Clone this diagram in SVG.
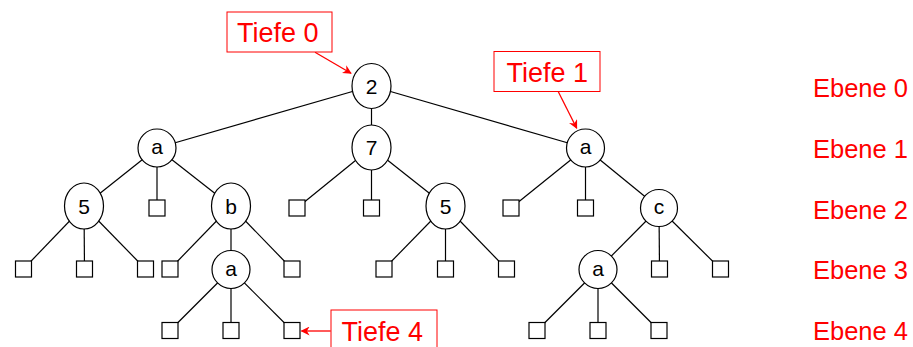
<svg xmlns="http://www.w3.org/2000/svg" width="913" height="347" viewBox="0 0 913 347">
<style>
.e{stroke:#000;stroke-width:1.2;fill:none}
.n{fill:#fff;stroke:#000;stroke-width:1.2}
.t{font-family:"Liberation Sans",Arial,sans-serif;font-size:21px;fill:#000;text-anchor:middle}
.r{font-family:"Liberation Sans",Arial,sans-serif;font-size:25.5px;fill:#ff0000}
.r2{font-family:"Liberation Sans",Arial,sans-serif;font-size:27px;fill:#ff0000}
.b{fill:#fff;stroke:#ff0000;stroke-width:1}
.a{stroke:#ff0000;stroke-width:1.3;fill:none}
</style>
<defs>
<marker id="arr" viewBox="0 0 10 10" refX="9" refY="5" markerWidth="9" markerHeight="9" markerUnits="userSpaceOnUse" orient="auto">
<path d="M0,0 L10,5 L0,10 L3,5 z" fill="#ff0000"/>
</marker>
</defs>
<g id="connectors">
<line class="e" x1="371.5" y1="86" x2="157" y2="148"/>
<line class="e" x1="371.5" y1="86" x2="371.5" y2="147.5"/>
<line class="e" x1="371.5" y1="86" x2="585.5" y2="148"/>
<line class="e" x1="157" y1="148" x2="84" y2="206"/>
<line class="e" x1="157" y1="148" x2="157" y2="208"/>
<line class="e" x1="157" y1="148" x2="231" y2="206"/>
<line class="e" x1="371.5" y1="147.5" x2="297" y2="208"/>
<line class="e" x1="371.5" y1="147.5" x2="371.5" y2="208"/>
<line class="e" x1="371.5" y1="147.5" x2="445.5" y2="206"/>
<line class="e" x1="585.5" y1="148" x2="511" y2="208"/>
<line class="e" x1="585.5" y1="148" x2="585.5" y2="208"/>
<line class="e" x1="585.5" y1="148" x2="659" y2="208"/>
<line class="e" x1="84" y1="206" x2="23.5" y2="269"/>
<line class="e" x1="84" y1="206" x2="84.5" y2="269"/>
<line class="e" x1="84" y1="206" x2="145.5" y2="269"/>
<line class="e" x1="231" y1="206" x2="170" y2="269"/>
<line class="e" x1="231" y1="206" x2="231" y2="269.5"/>
<line class="e" x1="231" y1="206" x2="292" y2="269"/>
<line class="e" x1="445.5" y1="206" x2="384" y2="269"/>
<line class="e" x1="445.5" y1="206" x2="445.5" y2="269"/>
<line class="e" x1="445.5" y1="206" x2="506.5" y2="269"/>
<line class="e" x1="659" y1="208" x2="598" y2="269.5"/>
<line class="e" x1="659" y1="208" x2="659.5" y2="269"/>
<line class="e" x1="659" y1="208" x2="720.5" y2="269"/>
<line class="e" x1="231" y1="269.5" x2="170" y2="330.5"/>
<line class="e" x1="231" y1="269.5" x2="231" y2="330.5"/>
<line class="e" x1="231" y1="269.5" x2="292" y2="330.5"/>
<line class="e" x1="598" y1="269.5" x2="537" y2="330.5"/>
<line class="e" x1="598" y1="269.5" x2="598" y2="330.5"/>
<line class="e" x1="598" y1="269.5" x2="659" y2="330.5"/>
</g>
<g id="root"><ellipse class="n" cx="371.5" cy="86" rx="19.5" ry="22.5"/><text class="t" x="371.5" y="93.5">2</text></g>
<g id="n1a"><circle class="n" cx="157" cy="148" r="19"/><text class="t" x="157" y="154">a</text></g>
<g id="n17"><ellipse class="n" cx="371.5" cy="147.5" rx="19.5" ry="22.5"/><text class="t" x="371.5" y="155">7</text></g>
<g id="n1a2"><circle class="n" cx="585.5" cy="148" r="19"/><text class="t" x="585.5" y="154">a</text></g>
<g id="n25"><ellipse class="n" cx="84" cy="206" rx="19.5" ry="23"/><text class="t" x="84" y="214">5</text></g>
<g id="l2a"><rect class="n" x="149" y="200" width="16" height="16"/></g>
<g id="n2b"><ellipse class="n" cx="231" cy="206" rx="19.5" ry="23"/><text class="t" x="231" y="214">b</text></g>
<g id="l2b"><rect class="n" x="289" y="200" width="16" height="16"/></g>
<g id="l2c"><rect class="n" x="363.5" y="200" width="16" height="16"/></g>
<g id="n25b"><ellipse class="n" cx="445.5" cy="206" rx="19.5" ry="23"/><text class="t" x="445.5" y="214">5</text></g>
<g id="l2d"><rect class="n" x="503" y="200" width="16" height="16"/></g>
<g id="l2e"><rect class="n" x="577.5" y="200" width="16" height="16"/></g>
<g id="n2c"><circle class="n" cx="659" cy="208" r="18.5"/><text class="t" x="659" y="214">c</text></g>
<g id="l3a"><rect class="n" x="15.5" y="261" width="16" height="16"/></g>
<g id="l3b"><rect class="n" x="76.5" y="261" width="16" height="16"/></g>
<g id="l3c"><rect class="n" x="137.5" y="261" width="16" height="16"/></g>
<g id="l3d"><rect class="n" x="162" y="261" width="16" height="16"/></g>
<g id="n3a"><circle class="n" cx="231" cy="269.5" r="19"/><text class="t" x="231" y="275.5">a</text></g>
<g id="l3e"><rect class="n" x="284" y="261" width="16" height="16"/></g>
<g id="l3f"><rect class="n" x="376" y="261" width="16" height="16"/></g>
<g id="l3g"><rect class="n" x="437.5" y="261" width="16" height="16"/></g>
<g id="l3h"><rect class="n" x="498.5" y="261" width="16" height="16"/></g>
<g id="n3a2"><circle class="n" cx="598" cy="269.5" r="19"/><text class="t" x="598" y="275.5">a</text></g>
<g id="l3i"><rect class="n" x="651.5" y="261" width="16" height="16"/></g>
<g id="l3j"><rect class="n" x="712.5" y="261" width="16" height="16"/></g>
<g id="l4a"><rect class="n" x="162" y="322.5" width="16" height="16"/></g>
<g id="l4b"><rect class="n" x="223" y="322.5" width="16" height="16"/></g>
<g id="l4c"><rect class="n" x="284" y="322.5" width="16" height="16"/></g>
<g id="l4d"><rect class="n" x="529" y="322.5" width="16" height="16"/></g>
<g id="l4e"><rect class="n" x="590" y="322.5" width="16" height="16"/></g>
<g id="l4f"><rect class="n" x="651" y="322.5" width="16" height="16"/></g>
<g id="annotations">
<line class="a" x1="315" y1="52.3" x2="351" y2="73.3" marker-end="url(#arr)"/>
<line class="a" x1="558.3" y1="91.7" x2="576.7" y2="128.3" marker-end="url(#arr)"/>
<line class="a" x1="330.7" y1="331" x2="301.5" y2="331" marker-end="url(#arr)"/>
</g>
<g id="tiefe0"><rect class="b" x="227" y="12" width="105" height="40"/><text class="r2" x="237" y="42.3">Tiefe 0</text></g>
<g id="tiefe1"><rect class="b" x="494" y="51.5" width="106" height="40"/><text class="r2" x="506.5" y="81.5">Tiefe 1</text></g>
<g id="tiefe4"><rect class="b" x="331" y="310" width="106" height="40"/><text class="r2" x="341.5" y="340.5">Tiefe 4</text></g>
<g id="ebenen">
<text class="r" x="813" y="97">Ebene 0</text>
<text class="r" x="813" y="158">Ebene 1</text>
<text class="r" x="813" y="218.5">Ebene 2</text>
<text class="r" x="813" y="279">Ebene 3</text>
<text class="r" x="813" y="339.5">Ebene 4</text>
</g>
</svg>
